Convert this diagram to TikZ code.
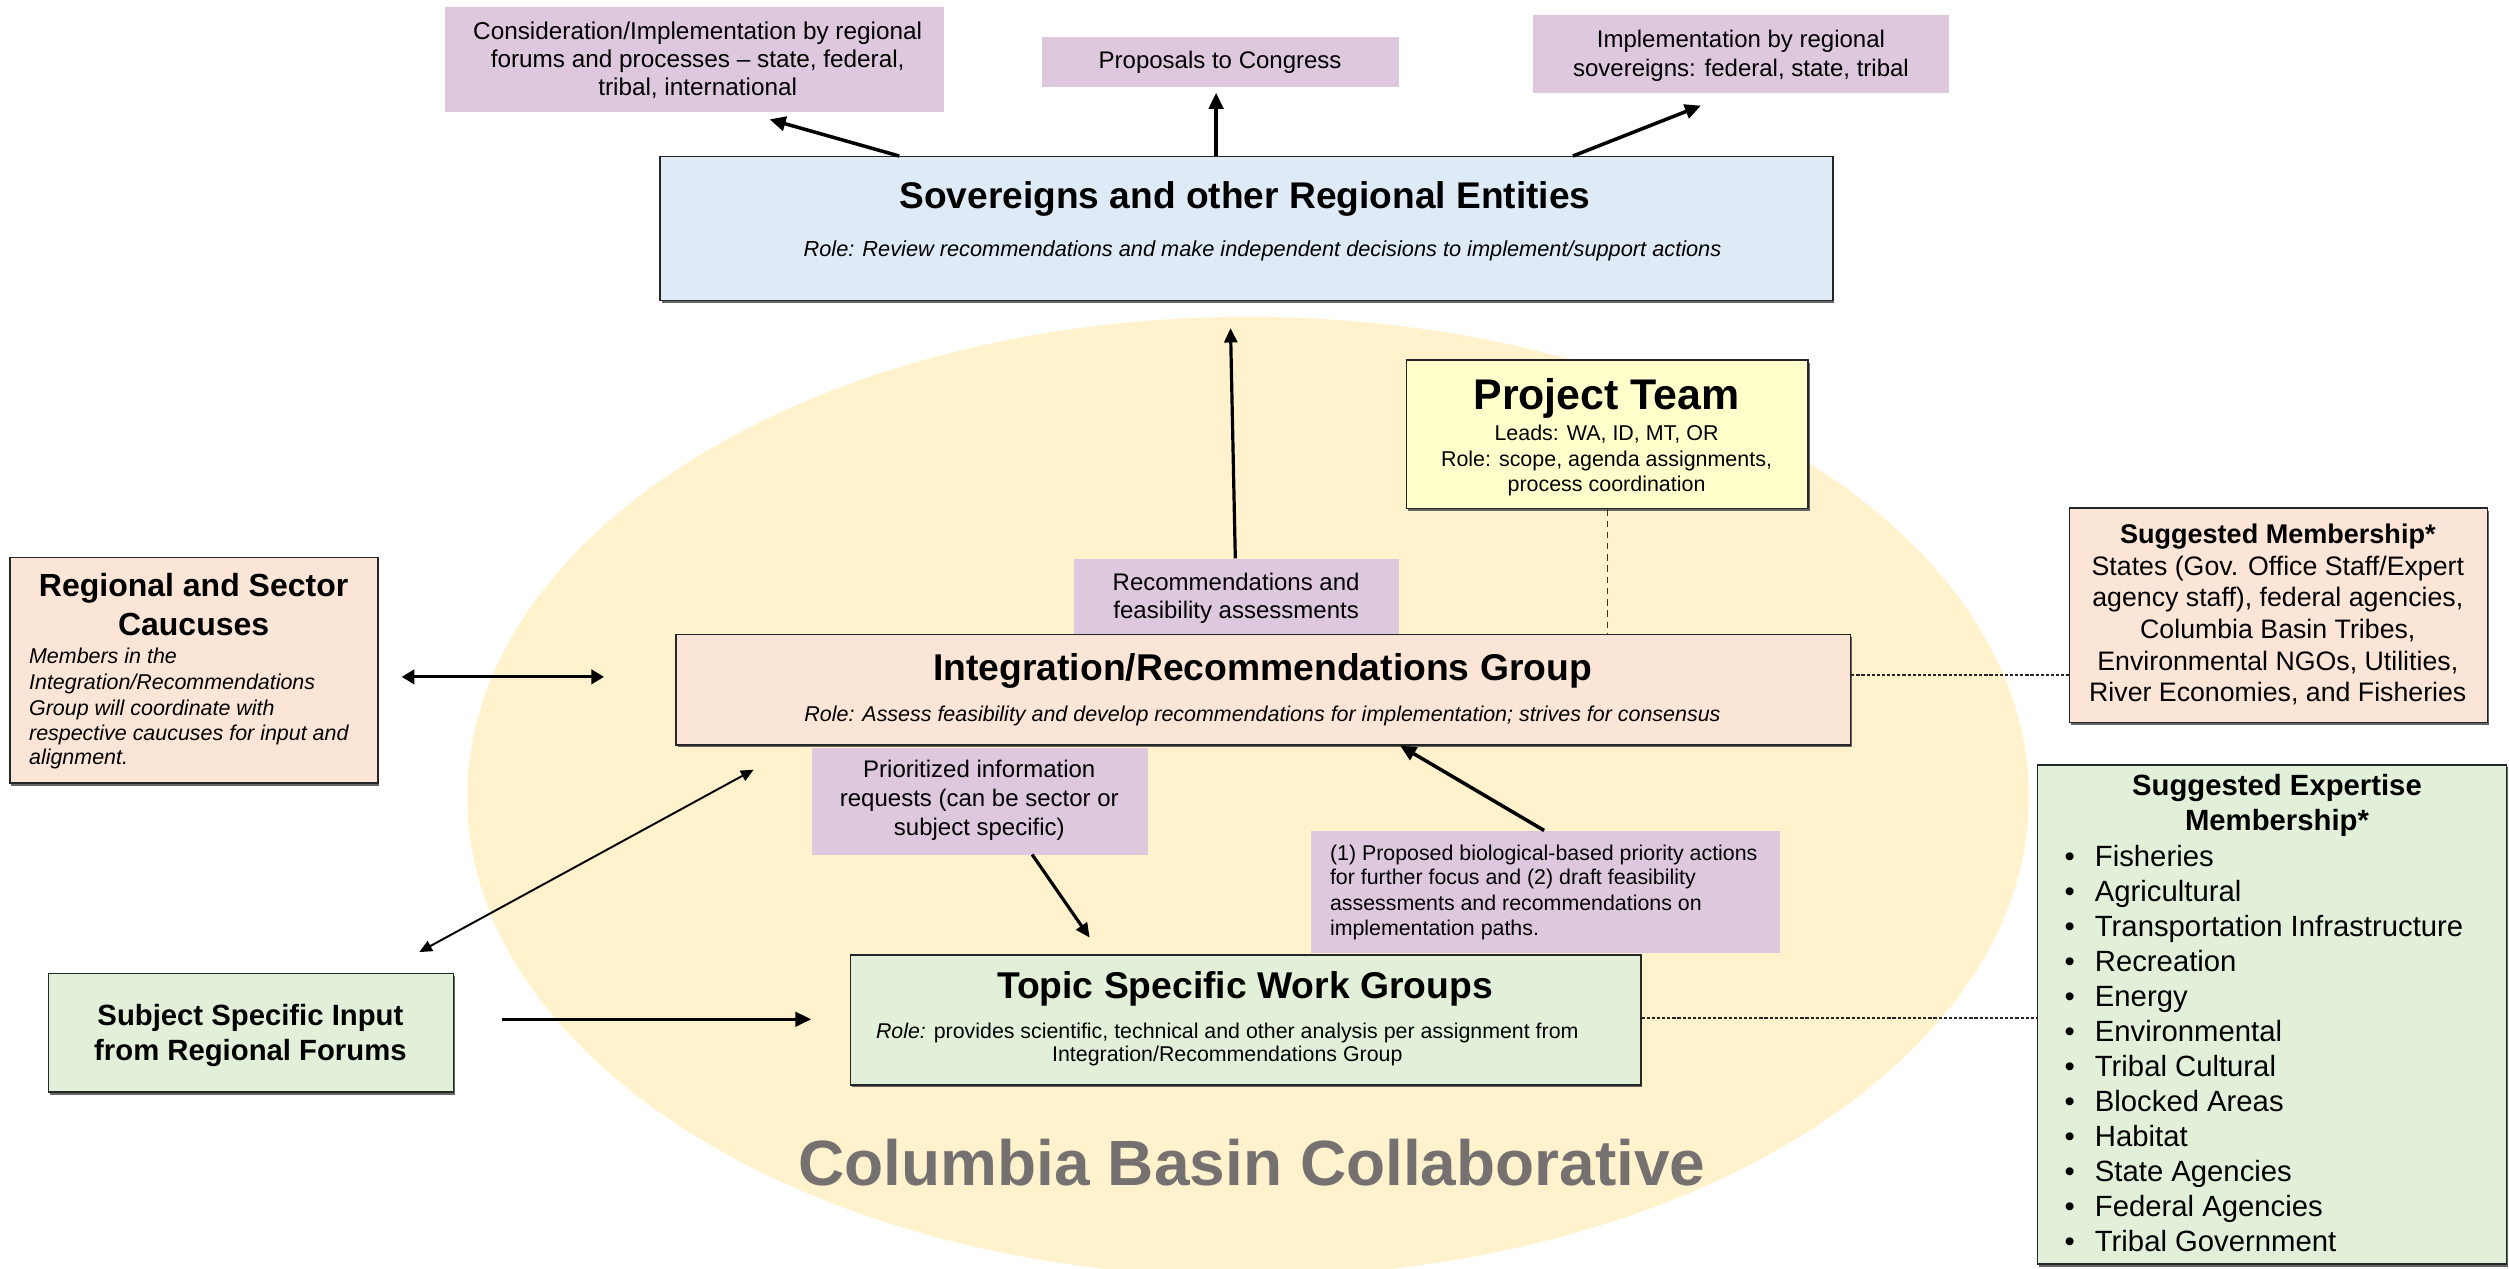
\documentclass[tikz,border=0pt]{standalone}
\usepackage{fontspec}
\setmainfont{Liberation Sans}
\usetikzlibrary{arrows.meta,shadows}
\definecolor{cpurple}{RGB}{221,200,222}
\definecolor{cblue}{RGB}{222,235,247}
\definecolor{cpeach}{RGB}{251,229,214}
\definecolor{cgreen}{RGB}{226,240,217}
\definecolor{cyellow}{RGB}{255,255,204}
\definecolor{cellipse}{RGB}{255,242,204}
\definecolor{cgraytext}{RGB}{118,113,113}
\newcommand\Fz[1]{\fontsize{#1}{#1}\selectfont}
\begin{document}
\begin{tikzpicture}[x=1pt,y=-1pt,
  box/.style={draw=black!85, line width=0.9pt, inner sep=0pt, anchor=north west,
    drop shadow={shadow xshift=1pt, shadow yshift=-1.6pt, fill=black!60, opacity=1}},
  pbox/.style={fill=cpurple, inner sep=0pt, anchor=north west},
  tx/.style={inner sep=0pt, anchor=base},
  txl/.style={inner sep=0pt, anchor=base west},
  arr/.style={line width=2.2pt, -{Triangle[length=10pt,width=9pt]}},
  arrm/.style={line width=2pt, -{Triangle[length=9pt,width=8pt]}},
  darr/.style={line width=2pt, {Triangle[length=8pt,width=9pt]}-{Triangle[length=8pt,width=9pt]}},
  darrthin/.style={line width=1.2pt, {Triangle[length=8pt,width=7pt]}-{Triangle[length=8pt,width=7pt]}},
  dashline/.style={draw=black!80, line width=0.8pt, dash pattern=on 4pt off 3pt},
  dotline/.style={draw=black!85, line width=1pt, dash pattern=on 2pt off 1.2pt}]
\useasboundingbox (0,0) rectangle (1568,793);
% background ellipse
\fill[cellipse] (780,498) ellipse [x radius=488pt, y radius=300pt];

% purple boxes (top)
\node[pbox, minimum width=312pt, minimum height=66pt] (cons) at (278,4) {};
\node[pbox, minimum width=223pt, minimum height=31pt] (cong) at (651,23) {};
\node[pbox, minimum width=260pt, minimum height=49pt] (impl) at (958,9) {};
% purple boxes (inner)
\node[pbox, minimum width=203pt, minimum height=47pt] (recs) at (671,349) {};
\node[pbox, minimum width=210pt, minimum height=67pt] (prio) at (507,467) {};
\node[pbox, minimum width=293pt, minimum height=76.5pt] (prop) at (819,519) {};

% main boxes
\node[box, fill=cblue, minimum width=733pt, minimum height=90pt] (sov) at (412,97.5) {};
\node[box, fill=cpeach, minimum width=734pt, minimum height=69pt] (irg) at (422,396) {};
\node[box, fill=cyellow, minimum width=251pt, minimum height=93pt] (pt) at (878.5,224.5) {};
\node[box, fill=cpeach, minimum width=261pt, minimum height=134pt] (mem) at (1293,317) {};
\node[box, fill=cpeach, minimum width=230pt, minimum height=141pt] (cau) at (5.7,348) {};
\node[box, fill=cgreen, minimum width=494pt, minimum height=81pt] (tsw) at (531,596.5) {};
\node[box, fill=cgreen, minimum width=253pt, minimum height=74pt] (ssi) at (30,608) {};
\node[box, fill=cgreen, minimum width=293pt, minimum height=312pt] (exp) at (1273,477.5) {};

% texts: top purple
\node[tx, font=\Fz{15.2}] (cons1) at (436,24.6) {Consideration/Implementation by regional};
\node[tx, font=\Fz{15.2}] (cons2) at (436,42) {forums and processes – state, federal,};
\node[tx, font=\Fz{15.2}] (cons3) at (436,59.8) {tribal, international};
\node[tx, font=\Fz{15}] (cong1) at (762.5,42.7) {Proposals to Congress};
\node[tx, font=\Fz{15}] (impl1) at (1088,29.8) {Implementation by regional};
\node[tx, font=\Fz{15}] (impl2) at (1088,47.5) {sovereigns: federal, state, tribal};

% sovereigns
\node[tx, font=\Fz{23.2}\bfseries] (sovt) at (778,130) {Sovereigns and other Regional Entities};
\node[tx, font=\Fz{13.6}\itshape] (sovr) at (789,160.4) {Role: Review recommendations and make independent decisions to implement/support actions};

% project team
\node[tx, font=\Fz{26.8}\bfseries] (ptt) at (1004,256) {Project Team};
\node[tx, font=\Fz{13.4}] (pt1) at (1004,275) {Leads: WA, ID, MT, OR};
\node[tx, font=\Fz{13.4}] (pt2) at (1004,291.25) {Role: scope, agenda assignments,};
\node[tx, font=\Fz{13.4}] (pt3) at (1004,307.3) {process coordination};

% recommendations
\node[tx, font=\Fz{15}] (recs1) at (772.5,368.75) {Recommendations and};
\node[tx, font=\Fz{15}] (recs2) at (772.5,386.5) {feasibility assessments};

% integration
\node[tx, font=\Fz{23.3}\bfseries] (irgt) at (789,425) {Integration/Recommendations Group};
\node[tx, font=\Fz{13.4}\itshape] (irgr) at (789,451) {Role: Assess feasibility and develop recommendations for implementation; strives for consensus};

% membership
\node[tx, font=\Fz{16.9}\bfseries] (memt) at (1423.5,339.6) {Suggested Membership*};
\node[tx, font=\Fz{16.7}] (mem1) at (1423.5,359.4) {States (Gov. Office Staff/Expert};
\node[tx, font=\Fz{16.7}] (mem2) at (1423.5,379.2) {agency staff), federal agencies,};
\node[tx, font=\Fz{16.7}] (mem3) at (1423.5,399) {Columbia Basin Tribes,};
\node[tx, font=\Fz{16.7}] (mem4) at (1423.5,418.75) {Environmental NGOs, Utilities,};
\node[tx, font=\Fz{16.7}] (mem5) at (1423.5,438.5) {River Economies, and Fisheries};

% caucuses
\node[tx, font=\Fz{20}\bfseries] (caut1) at (121,373) {Regional and Sector};
\node[tx, font=\Fz{20}\bfseries] (caut2) at (121,397) {Caucuses};
\node[txl, font=\Fz{13.4}\itshape] (cau1) at (18,414.6) {Members in the};
\node[txl, font=\Fz{13.4}\itshape] (cau2) at (18,430.8) {Integration/Recommendations};
\node[txl, font=\Fz{13.4}\itshape] (cau3) at (18,447) {Group will coordinate with};
\node[txl, font=\Fz{13.4}\itshape] (cau4) at (18,462.5) {respective caucuses for input and};
\node[txl, font=\Fz{13.4}\itshape] (cau5) at (18,478) {alignment.};

% prioritized
\node[tx, font=\Fz{15}] (prio1) at (612,486) {Prioritized information};
\node[tx, font=\Fz{15}] (prio2) at (612,504) {requests (can be sector or};
\node[tx, font=\Fz{15}] (prio3) at (612,522) {subject specific)};

% proposed
\node[txl, font=\Fz{13.35}] (prop1) at (831,537.5) {(1) Proposed biological-based priority actions};
\node[txl, font=\Fz{13.35}] (prop2) at (831,553) {for further focus and (2) draft feasibility};
\node[txl, font=\Fz{13.35}] (prop3) at (831,568.75) {assessments and recommendations on};
\node[txl, font=\Fz{13.35}] (prop4) at (831,584.4) {implementation paths.};

% topic
\node[tx, font=\Fz{23.3}\bfseries] (tswt) at (778,624) {Topic Specific Work Groups};
\node[tx, font=\Fz{13.35}] (tsw1) at (767,649) {\textit{Role:} provides scientific, technical and other analysis per assignment from};
\node[tx, font=\Fz{13.35}] (tsw2) at (767,663.5) {Integration/Recommendations Group};

% subject specific
\node[tx, font=\Fz{18.3}\bfseries] (ssi1) at (156.5,640.6) {Subject Specific Input};
\node[tx, font=\Fz{18.3}\bfseries] (ssi2) at (156.5,662.5) {from Regional Forums};

% expertise
\node[tx, font=\Fz{18.3}\bfseries] (expt1) at (1423,497) {Suggested Expertise};
\node[tx, font=\Fz{18.3}\bfseries] (expt2) at (1423,518.75) {Membership*};
\foreach \t [count=\i] in {Fisheries,Agricultural,Transportation Infrastructure,Recreation,Energy,Environmental,Tribal Cultural,Blocked Areas,Habitat,State Agencies,Federal Agencies,Tribal Government}
  \node[txl, font=\Fz{18.3}] (exp\i) at (1309,{541.5+(\i-1)*21.86}) {\llap{\makebox[19pt][l]{•}}\t};

% title
\node[tx, font=\Fz{40}\bfseries, text=cgraytext] (cbc) at (782.5,740.6) {Columbia Basin Collaborative};

% coordinates for connectors
\coordinate (s1) at (562,97.5);  \coordinate (e1) at (481,74.6);
\coordinate (s2) at (760,97.5);  \coordinate (e2) at (760,58);
\coordinate (s3) at (983,97.5);  \coordinate (e3) at (1063,66);
\coordinate (s4) at (772,349);   \coordinate (e4) at (769,205);
\coordinate (s5) at (251,423);   \coordinate (e5) at (377.5,423);
\coordinate (s6) at (262,595);   \coordinate (e6) at (471,481);
\coordinate (s7) at (645,534);   \coordinate (e7) at (681,586);
\coordinate (s8) at (965,519);   \coordinate (e8) at (875,466);
\coordinate (s9) at (314,637);   \coordinate (e9) at (507,637);

% connectors
\draw[arr] (s1) -- (e1);
\draw[arr] (s2) -- (e2);
\draw[arr] (s3) -- (e3);
\draw[arrm] (s4) -- (e4);
\draw[darr] (s5) -- (e5);
\draw[darrthin] (s6) -- (e6);
\draw[arrm] (s7) -- (e7);
\draw[arr] (s8) -- (e8);
\draw[arr] (s9) -- (e9);
\draw[dashline] (pt.south) -- (pt.south |- irg.north);
\draw[dotline] (irg.east |- 0,422) -- (mem.west |- 0,422);
\draw[dotline] (tsw.east |- 0,636) -- (exp.west |- 0,636);
\end{tikzpicture}
\end{document}
